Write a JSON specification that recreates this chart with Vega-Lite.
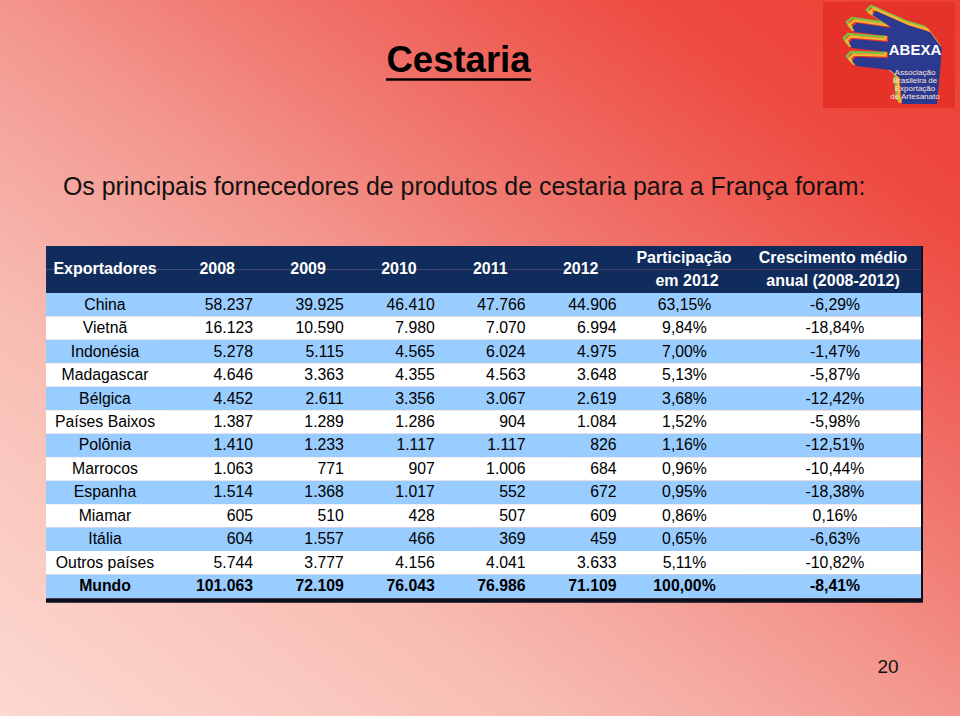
{
  "$schema": "https://vega.github.io/schema/vega-lite/v6.json",
  "width": 960,
  "height": 716,
  "autosize": "none",
  "padding": 0,
  "background": "white",
  "config": {
    "view": {"stroke": null},
    "axis": {"disable": true},
    "legend": {"disable": true},
    "locale": {"number": {"decimal": ",", "thousands": ".", "grouping": [3], "currency": ["", ""], "minus": "-", "percent": "%"}}
  },
  "datasets": {
    "paises": [
      {"pais": "China", "participacao": 0.6315, "crescimento": -0.0629},
      {"pais": "Vietnã", "participacao": 0.0984, "crescimento": -0.1884},
      {"pais": "Indonésia", "participacao": 0.0700, "crescimento": -0.0147},
      {"pais": "Madagascar", "participacao": 0.0513, "crescimento": -0.0587},
      {"pais": "Bélgica", "participacao": 0.0368, "crescimento": -0.1242},
      {"pais": "Países Baixos", "participacao": 0.0152, "crescimento": -0.0598},
      {"pais": "Polônia", "participacao": 0.0116, "crescimento": -0.1251},
      {"pais": "Marrocos", "participacao": 0.0096, "crescimento": -0.1044},
      {"pais": "Espanha", "participacao": 0.0095, "crescimento": -0.1838},
      {"pais": "Miamar", "participacao": 0.0086, "crescimento": 0.0016},
      {"pais": "Itália", "participacao": 0.0065, "crescimento": -0.0663},
      {"pais": "Outros países", "participacao": 0.0511, "crescimento": -0.1082},
      {"pais": "Mundo", "participacao": 1.0, "crescimento": -0.0841}
    ],
    "valores": [
      {"pais": "China", "ano": 2008, "valor": 58237}, {"pais": "China", "ano": 2009, "valor": 39925}, {"pais": "China", "ano": 2010, "valor": 46410}, {"pais": "China", "ano": 2011, "valor": 47766}, {"pais": "China", "ano": 2012, "valor": 44906},
      {"pais": "Vietnã", "ano": 2008, "valor": 16123}, {"pais": "Vietnã", "ano": 2009, "valor": 10590}, {"pais": "Vietnã", "ano": 2010, "valor": 7980}, {"pais": "Vietnã", "ano": 2011, "valor": 7070}, {"pais": "Vietnã", "ano": 2012, "valor": 6994},
      {"pais": "Indonésia", "ano": 2008, "valor": 5278}, {"pais": "Indonésia", "ano": 2009, "valor": 5115}, {"pais": "Indonésia", "ano": 2010, "valor": 4565}, {"pais": "Indonésia", "ano": 2011, "valor": 6024}, {"pais": "Indonésia", "ano": 2012, "valor": 4975},
      {"pais": "Madagascar", "ano": 2008, "valor": 4646}, {"pais": "Madagascar", "ano": 2009, "valor": 3363}, {"pais": "Madagascar", "ano": 2010, "valor": 4355}, {"pais": "Madagascar", "ano": 2011, "valor": 4563}, {"pais": "Madagascar", "ano": 2012, "valor": 3648},
      {"pais": "Bélgica", "ano": 2008, "valor": 4452}, {"pais": "Bélgica", "ano": 2009, "valor": 2611}, {"pais": "Bélgica", "ano": 2010, "valor": 3356}, {"pais": "Bélgica", "ano": 2011, "valor": 3067}, {"pais": "Bélgica", "ano": 2012, "valor": 2619},
      {"pais": "Países Baixos", "ano": 2008, "valor": 1387}, {"pais": "Países Baixos", "ano": 2009, "valor": 1289}, {"pais": "Países Baixos", "ano": 2010, "valor": 1286}, {"pais": "Países Baixos", "ano": 2011, "valor": 904}, {"pais": "Países Baixos", "ano": 2012, "valor": 1084},
      {"pais": "Polônia", "ano": 2008, "valor": 1410}, {"pais": "Polônia", "ano": 2009, "valor": 1233}, {"pais": "Polônia", "ano": 2010, "valor": 1117}, {"pais": "Polônia", "ano": 2011, "valor": 1117}, {"pais": "Polônia", "ano": 2012, "valor": 826},
      {"pais": "Marrocos", "ano": 2008, "valor": 1063}, {"pais": "Marrocos", "ano": 2009, "valor": 771}, {"pais": "Marrocos", "ano": 2010, "valor": 907}, {"pais": "Marrocos", "ano": 2011, "valor": 1006}, {"pais": "Marrocos", "ano": 2012, "valor": 684},
      {"pais": "Espanha", "ano": 2008, "valor": 1514}, {"pais": "Espanha", "ano": 2009, "valor": 1368}, {"pais": "Espanha", "ano": 2010, "valor": 1017}, {"pais": "Espanha", "ano": 2011, "valor": 552}, {"pais": "Espanha", "ano": 2012, "valor": 672},
      {"pais": "Miamar", "ano": 2008, "valor": 605}, {"pais": "Miamar", "ano": 2009, "valor": 510}, {"pais": "Miamar", "ano": 2010, "valor": 428}, {"pais": "Miamar", "ano": 2011, "valor": 507}, {"pais": "Miamar", "ano": 2012, "valor": 609},
      {"pais": "Itália", "ano": 2008, "valor": 604}, {"pais": "Itália", "ano": 2009, "valor": 1557}, {"pais": "Itália", "ano": 2010, "valor": 466}, {"pais": "Itália", "ano": 2011, "valor": 369}, {"pais": "Itália", "ano": 2012, "valor": 459},
      {"pais": "Outros países", "ano": 2008, "valor": 5744}, {"pais": "Outros países", "ano": 2009, "valor": 3777}, {"pais": "Outros países", "ano": 2010, "valor": 4156}, {"pais": "Outros países", "ano": 2011, "valor": 4041}, {"pais": "Outros países", "ano": 2012, "valor": 3633},
      {"pais": "Mundo", "ano": 2008, "valor": 101063}, {"pais": "Mundo", "ano": 2009, "valor": 72109}, {"pais": "Mundo", "ano": 2010, "valor": 76043}, {"pais": "Mundo", "ano": 2011, "valor": 76986}, {"pais": "Mundo", "ano": 2012, "valor": 71109}
    ]
  },
  "resolve": {"scale": {"x": "independent", "y": "independent", "color": "independent"}},
  "layer": [
    {
      "data": {"values": [{}]},
      "layer": [
        {
          "mark": {"type": "rect", "color": {"gradient": "linear", "x1": 0, "y1": 1, "x2": 1, "y2": 0, "stops": [
            {"offset": 0, "color": "#FCD9D1"},
            {"offset": 0.28, "color": "#F8BDB3"},
            {"offset": 0.4, "color": "#F5A8A0"},
            {"offset": 0.5, "color": "#F3958C"},
            {"offset": 0.56, "color": "#F2877E"},
            {"offset": 0.66, "color": "#F07068"},
            {"offset": 0.75, "color": "#EF5D54"},
            {"offset": 0.84, "color": "#EE4A40"},
            {"offset": 1, "color": "#EC3F34"}
          ]}},
          "encoding": {
            "x": {"datum": 0, "type": "quantitative", "scale": {"domain": [0, 960], "zero": false, "nice": false}},
            "x2": {"datum": 960},
            "y": {"datum": 0, "type": "quantitative", "scale": {"domain": [0, 716], "reverse": true, "zero": false, "nice": false}},
            "y2": {"datum": 716}
          }
        },
        {
          "mark": {"type": "rect", "color": "#E6332A"},
          "encoding": {
            "x": {"datum": 823, "type": "quantitative", "scale": {"domain": [0, 960], "zero": false, "nice": false}},
            "x2": {"datum": 955},
            "y": {"datum": 2, "type": "quantitative", "scale": {"domain": [0, 716], "reverse": true, "zero": false, "nice": false}},
            "y2": {"datum": 108}
          }
        },
        {
          "mark": {"type": "point", "filled": false, "stroke": "#7AC143", "strokeWidth": 2.5, "size": 9216, "opacity": 1,
            "shape": "M-0.396,-0.969L0.3125,-0.656L0.729,-0.531L0.979,-0.198L0.9375,0.302L0.875,0.969L0.146,0.969L0.104,0.427L-0.104,0.26L-0.8125,0.177L-0.896,0.073L-0.8125,-0.01L-0.146,0.01L-0.146,-0.115L-0.896,-0.198L-0.958,-0.302L-0.875,-0.385L-0.146,-0.323L-0.146,-0.448L-0.833,-0.531L-0.896,-0.635L-0.792,-0.719L-0.0625,-0.615L-0.479,-0.885Z"},
          "encoding": {
            "x": {"datum": 890, "type": "quantitative", "scale": {"domain": [0, 960], "zero": false, "nice": false}},
            "y": {"datum": 52.5, "type": "quantitative", "scale": {"domain": [0, 716], "reverse": true, "zero": false, "nice": false}}
          }
        },
        {
          "mark": {"type": "point", "filled": false, "stroke": "#FBB034", "strokeWidth": 2.5, "size": 9216, "opacity": 1,
            "shape": "M-0.396,-0.969L0.3125,-0.656L0.729,-0.531L0.979,-0.198L0.9375,0.302L0.875,0.969L0.146,0.969L0.104,0.427L-0.104,0.26L-0.8125,0.177L-0.896,0.073L-0.8125,-0.01L-0.146,0.01L-0.146,-0.115L-0.896,-0.198L-0.958,-0.302L-0.875,-0.385L-0.146,-0.323L-0.146,-0.448L-0.833,-0.531L-0.896,-0.635L-0.792,-0.719L-0.0625,-0.615L-0.479,-0.885Z"},
          "encoding": {
            "x": {"datum": 892.5, "type": "quantitative", "scale": {"domain": [0, 960], "zero": false, "nice": false}},
            "y": {"datum": 55, "type": "quantitative", "scale": {"domain": [0, 716], "reverse": true, "zero": false, "nice": false}}
          }
        },
        {
          "mark": {"type": "point", "filled": true, "color": "#2B3A8F", "size": 9216, "opacity": 1,
            "shape": "M-0.396,-0.969L0.3125,-0.656L0.729,-0.531L0.979,-0.198L0.9375,0.302L0.875,0.969L0.146,0.969L0.104,0.427L-0.104,0.26L-0.8125,0.177L-0.896,0.073L-0.8125,-0.01L-0.146,0.01L-0.146,-0.115L-0.896,-0.198L-0.958,-0.302L-0.875,-0.385L-0.146,-0.323L-0.146,-0.448L-0.833,-0.531L-0.896,-0.635L-0.792,-0.719L-0.0625,-0.615L-0.479,-0.885Z"},
          "encoding": {
            "x": {"datum": 895, "type": "quantitative", "scale": {"domain": [0, 960], "zero": false, "nice": false}},
            "y": {"datum": 57.5, "type": "quantitative", "scale": {"domain": [0, 716], "reverse": true, "zero": false, "nice": false}}
          }
        },
        {
          "mark": {"type": "text", "text": "ABEXA", "font": "Liberation Sans, sans-serif", "fontWeight": "bold", "fontSize": 15, "color": "white", "align": "center", "baseline": "middle"},
          "encoding": {
            "x": {"datum": 915, "type": "quantitative", "scale": {"domain": [0, 960], "zero": false, "nice": false}},
            "y": {"datum": 50, "type": "quantitative", "scale": {"domain": [0, 716], "reverse": true, "zero": false, "nice": false}}
          }
        },
        {
          "mark": {"type": "text", "text": ["Associação", "Brasileira de", "Exportação", "de Artesanato"], "lineHeight": 8.1, "font": "Liberation Sans, sans-serif", "fontSize": 8, "color": "#FDE3DA", "align": "center", "baseline": "middle"},
          "encoding": {
            "x": {"datum": 915, "type": "quantitative", "scale": {"domain": [0, 960], "zero": false, "nice": false}},
            "y": {"datum": 73, "type": "quantitative", "scale": {"domain": [0, 716], "reverse": true, "zero": false, "nice": false}}
          }
        },
        {
          "mark": {"type": "text", "text": "Cestaria", "font": "Liberation Sans, Arial, sans-serif", "fontWeight": "bold", "fontSize": 36.5, "color": "#000000", "align": "center", "baseline": "alphabetic"},
          "encoding": {
            "x": {"datum": 458.5, "type": "quantitative", "scale": {"domain": [0, 960], "zero": false, "nice": false}},
            "y": {"datum": 72, "type": "quantitative", "scale": {"domain": [0, 716], "reverse": true, "zero": false, "nice": false}}
          }
        },
        {
          "mark": {"type": "rule", "color": "#000000", "strokeWidth": 2.6},
          "encoding": {
            "x": {"datum": 386, "type": "quantitative", "scale": {"domain": [0, 960], "zero": false, "nice": false}},
            "x2": {"datum": 531},
            "y": {"datum": 79.5, "type": "quantitative", "scale": {"domain": [0, 716], "reverse": true, "zero": false, "nice": false}}
          }
        },
        {
          "mark": {"type": "text", "text": "Os principais fornecedores de produtos de cestaria para a França foram:", "font": "Liberation Sans, Arial, sans-serif", "fontSize": 24.9, "color": "#111111", "align": "left", "baseline": "alphabetic"},
          "encoding": {
            "x": {"datum": 63, "type": "quantitative", "scale": {"domain": [0, 960], "zero": false, "nice": false}},
            "y": {"datum": 195, "type": "quantitative", "scale": {"domain": [0, 716], "reverse": true, "zero": false, "nice": false}}
          }
        },
        {
          "mark": {"type": "text", "text": "20", "font": "Liberation Sans, sans-serif", "fontSize": 19, "color": "#111111", "align": "center", "baseline": "middle"},
          "encoding": {
            "x": {"datum": 888, "type": "quantitative", "scale": {"domain": [0, 960], "zero": false, "nice": false}},
            "y": {"datum": 667, "type": "quantitative", "scale": {"domain": [0, 716], "reverse": true, "zero": false, "nice": false}}
          }
        }
      ]
    },
    {
      "data": {"name": "paises"},
      "layer": [
        {
          "data": {"values": [{}]},
          "mark": {"type": "rect", "color": "#0F2C5C"},
          "encoding": {
            "x": {"datum": 46, "type": "quantitative", "scale": {"domain": [0, 960], "zero": false, "nice": false}},
            "x2": {"datum": 921},
            "y": {"datum": "h1", "type": "nominal", "scale": {"type": "band", "domain": ["h1", "h2", "China", "Vietnã", "Indonésia", "Madagascar", "Bélgica", "Países Baixos", "Polônia", "Marrocos", "Espanha", "Miamar", "Itália", "Outros países", "Mundo"], "range": [246, 598], "paddingInner": 0, "paddingOuter": 0}}
          }
        },
        {
          "data": {"values": [{}]},
          "mark": {"type": "rect", "color": "#0F2C5C"},
          "encoding": {
            "x": {"datum": 46, "type": "quantitative", "scale": {"domain": [0, 960], "zero": false, "nice": false}},
            "x2": {"datum": 921},
            "y": {"datum": "h2", "type": "nominal", "scale": {"type": "band", "domain": ["h1", "h2", "China", "Vietnã", "Indonésia", "Madagascar", "Bélgica", "Países Baixos", "Polônia", "Marrocos", "Espanha", "Miamar", "Itália", "Outros países", "Mundo"], "range": [246, 598], "paddingInner": 0, "paddingOuter": 0}}
          }
        },
        {
          "mark": {"type": "rect"},
          "encoding": {
            "x": {"datum": 46, "type": "quantitative", "scale": {"domain": [0, 960], "zero": false, "nice": false}},
            "x2": {"datum": 921},
            "y": {"field": "pais", "type": "nominal", "scale": {"type": "band", "domain": ["h1", "h2", "China", "Vietnã", "Indonésia", "Madagascar", "Bélgica", "Países Baixos", "Polônia", "Marrocos", "Espanha", "Miamar", "Itália", "Outros países", "Mundo"], "range": [246, 598], "paddingInner": 0, "paddingOuter": 0}},
            "color": {"field": "pais", "type": "nominal", "legend": null, "scale": {
              "domain": ["China", "Vietnã", "Indonésia", "Madagascar", "Bélgica", "Países Baixos", "Polônia", "Marrocos", "Espanha", "Miamar", "Itália", "Outros países", "Mundo"],
              "range": ["#99CCFF", "#FFFFFF", "#99CCFF", "#FFFFFF", "#99CCFF", "#FFFFFF", "#99CCFF", "#FFFFFF", "#99CCFF", "#FFFFFF", "#99CCFF", "#FFFFFF", "#99CCFF"]}}
          }
        },
        {
          "data": {"values": [{}]},
          "mark": {"type": "text", "text": "Exportadores", "font": "Liberation Sans, sans-serif", "fontWeight": "bold", "fontSize": 16, "color": "white", "align": "center", "baseline": "middle"},
          "encoding": {
            "x": {"datum": 105, "type": "quantitative", "scale": {"domain": [0, 960], "zero": false, "nice": false}},
            "y": {"datum": "h2", "type": "nominal", "bandPosition": 0, "scale": {"type": "band", "domain": ["h1", "h2", "China", "Vietnã", "Indonésia", "Madagascar", "Bélgica", "Países Baixos", "Polônia", "Marrocos", "Espanha", "Miamar", "Itália", "Outros países", "Mundo"], "range": [246, 598], "paddingInner": 0, "paddingOuter": 0}}
          }
        },
        {
          "data": {"values": [{}]},
          "mark": {"type": "text", "text": "Participação", "font": "Liberation Sans, sans-serif", "fontWeight": "bold", "fontSize": 16, "color": "white", "align": "center", "baseline": "middle"},
          "encoding": {
            "x": {"datum": 684, "type": "quantitative", "scale": {"domain": [0, 960], "zero": false, "nice": false}},
            "y": {"datum": "h1", "type": "nominal", "scale": {"type": "band", "domain": ["h1", "h2", "China", "Vietnã", "Indonésia", "Madagascar", "Bélgica", "Países Baixos", "Polônia", "Marrocos", "Espanha", "Miamar", "Itália", "Outros países", "Mundo"], "range": [246, 598], "paddingInner": 0, "paddingOuter": 0}}
          }
        },
        {
          "data": {"values": [{}]},
          "mark": {"type": "text", "text": "em 2012", "font": "Liberation Sans, sans-serif", "fontWeight": "bold", "fontSize": 16, "color": "white", "align": "center", "baseline": "middle"},
          "encoding": {
            "x": {"datum": 687, "type": "quantitative", "scale": {"domain": [0, 960], "zero": false, "nice": false}},
            "y": {"datum": "h2", "type": "nominal", "scale": {"type": "band", "domain": ["h1", "h2", "China", "Vietnã", "Indonésia", "Madagascar", "Bélgica", "Países Baixos", "Polônia", "Marrocos", "Espanha", "Miamar", "Itália", "Outros países", "Mundo"], "range": [246, 598], "paddingInner": 0, "paddingOuter": 0}}
          }
        },
        {
          "data": {"values": [{}]},
          "mark": {"type": "text", "text": "Crescimento médio", "font": "Liberation Sans, sans-serif", "fontWeight": "bold", "fontSize": 16, "color": "white", "align": "center", "baseline": "middle"},
          "encoding": {
            "x": {"datum": 833, "type": "quantitative", "scale": {"domain": [0, 960], "zero": false, "nice": false}},
            "y": {"datum": "h1", "type": "nominal", "scale": {"type": "band", "domain": ["h1", "h2", "China", "Vietnã", "Indonésia", "Madagascar", "Bélgica", "Países Baixos", "Polônia", "Marrocos", "Espanha", "Miamar", "Itália", "Outros países", "Mundo"], "range": [246, 598], "paddingInner": 0, "paddingOuter": 0}}
          }
        },
        {
          "data": {"values": [{}]},
          "mark": {"type": "text", "text": "anual (2008-2012)", "font": "Liberation Sans, sans-serif", "fontWeight": "bold", "fontSize": 16, "color": "white", "align": "center", "baseline": "middle"},
          "encoding": {
            "x": {"datum": 833, "type": "quantitative", "scale": {"domain": [0, 960], "zero": false, "nice": false}},
            "y": {"datum": "h2", "type": "nominal", "scale": {"type": "band", "domain": ["h1", "h2", "China", "Vietnã", "Indonésia", "Madagascar", "Bélgica", "Países Baixos", "Polônia", "Marrocos", "Espanha", "Miamar", "Itália", "Outros países", "Mundo"], "range": [246, 598], "paddingInner": 0, "paddingOuter": 0}}
          }
        },
        {
          "mark": {"type": "text", "font": "Liberation Sans, sans-serif", "fontSize": 15.8, "color": "#000000", "align": "center", "baseline": "middle", "fontWeight": {"expr": "datum.pais === 'Mundo' ? 'bold' : 'normal'"}},
          "encoding": {
            "text": {"field": "pais", "type": "nominal"},
            "x": {"datum": 105, "type": "quantitative", "scale": {"domain": [0, 960], "zero": false, "nice": false}},
            "y": {"field": "pais", "type": "nominal", "scale": {"type": "band", "domain": ["h1", "h2", "China", "Vietnã", "Indonésia", "Madagascar", "Bélgica", "Países Baixos", "Polônia", "Marrocos", "Espanha", "Miamar", "Itália", "Outros países", "Mundo"], "range": [246, 598], "paddingInner": 0, "paddingOuter": 0}}
          }
        },
        {
          "mark": {"type": "text", "font": "Liberation Sans, sans-serif", "fontSize": 15.8, "color": "#000000", "align": "center", "baseline": "middle", "fontWeight": {"expr": "datum.pais === 'Mundo' ? 'bold' : 'normal'"}},
          "encoding": {
            "text": {"field": "participacao", "type": "quantitative", "format": ".2%"},
            "x": {"datum": 684.5, "type": "quantitative", "scale": {"domain": [0, 960], "zero": false, "nice": false}},
            "y": {"field": "pais", "type": "nominal", "scale": {"type": "band", "domain": ["h1", "h2", "China", "Vietnã", "Indonésia", "Madagascar", "Bélgica", "Países Baixos", "Polônia", "Marrocos", "Espanha", "Miamar", "Itália", "Outros países", "Mundo"], "range": [246, 598], "paddingInner": 0, "paddingOuter": 0}}
          }
        },
        {
          "mark": {"type": "text", "font": "Liberation Sans, sans-serif", "fontSize": 15.8, "color": "#000000", "align": "center", "baseline": "middle", "fontWeight": {"expr": "datum.pais === 'Mundo' ? 'bold' : 'normal'"}},
          "encoding": {
            "text": {"field": "crescimento", "type": "quantitative", "format": ".2%"},
            "x": {"datum": 835, "type": "quantitative", "scale": {"domain": [0, 960], "zero": false, "nice": false}},
            "y": {"field": "pais", "type": "nominal", "scale": {"type": "band", "domain": ["h1", "h2", "China", "Vietnã", "Indonésia", "Madagascar", "Bélgica", "Países Baixos", "Polônia", "Marrocos", "Espanha", "Miamar", "Itália", "Outros países", "Mundo"], "range": [246, 598], "paddingInner": 0, "paddingOuter": 0}}
          }
        }
      ]
    },
    {
      "data": {"name": "valores"},
      "layer": [
        {
          "mark": {"type": "text", "font": "Liberation Sans, sans-serif", "fontSize": 15.8, "color": "#000000", "align": "right", "baseline": "middle", "fontWeight": {"expr": "datum.pais === 'Mundo' ? 'bold' : 'normal'"}},
          "encoding": {
            "text": {"field": "valor", "type": "quantitative", "format": ",d"},
            "x": {"field": "ano", "type": "quantitative", "scale": {"domain": [2008, 2012], "range": [253, 616.5], "zero": false, "nice": false}},
            "y": {"field": "pais", "type": "nominal", "scale": {"type": "band", "domain": ["h1", "h2", "China", "Vietnã", "Indonésia", "Madagascar", "Bélgica", "Países Baixos", "Polônia", "Marrocos", "Espanha", "Miamar", "Itália", "Outros países", "Mundo"], "range": [246, 598], "paddingInner": 0, "paddingOuter": 0}}
          }
        },
        {
          "transform": [{"filter": "datum.pais === 'China'"}],
          "mark": {"type": "text", "font": "Liberation Sans, sans-serif", "fontSize": 16, "fontWeight": "bold", "color": "white", "align": "right", "baseline": "middle", "dx": -18},
          "encoding": {
            "text": {"field": "ano", "type": "quantitative", "format": "d"},
            "x": {"field": "ano", "type": "quantitative", "scale": {"domain": [2008, 2012], "range": [253, 616.5], "zero": false, "nice": false}},
            "y": {"datum": "h2", "type": "nominal", "bandPosition": 0, "scale": {"type": "band", "domain": ["h1", "h2", "China", "Vietnã", "Indonésia", "Madagascar", "Bélgica", "Países Baixos", "Polônia", "Marrocos", "Espanha", "Miamar", "Itália", "Outros países", "Mundo"], "range": [246, 598], "paddingInner": 0, "paddingOuter": 0}}
          }
        }
      ]
    },
    {
      "data": {"values": [{}]},
      "layer": [
        {
          "mark": {"type": "rule", "color": "#0A0F1E", "strokeWidth": 4.5},
          "encoding": {
            "x": {"datum": 46, "type": "quantitative", "scale": {"domain": [0, 960], "zero": false, "nice": false}},
            "x2": {"datum": 923},
            "y": {"datum": 600.5, "type": "quantitative", "scale": {"domain": [0, 716], "reverse": true, "zero": false, "nice": false}}
          }
        },
        {
          "mark": {"type": "rule", "color": "#0A0F1E", "strokeWidth": 2},
          "encoding": {
            "x": {"datum": 922, "type": "quantitative", "scale": {"domain": [0, 960], "zero": false, "nice": false}},
            "y": {"datum": 246, "type": "quantitative", "scale": {"domain": [0, 716], "reverse": true, "zero": false, "nice": false}},
            "y2": {"datum": 602}
          }
        }
      ]
    }
  ]
}
